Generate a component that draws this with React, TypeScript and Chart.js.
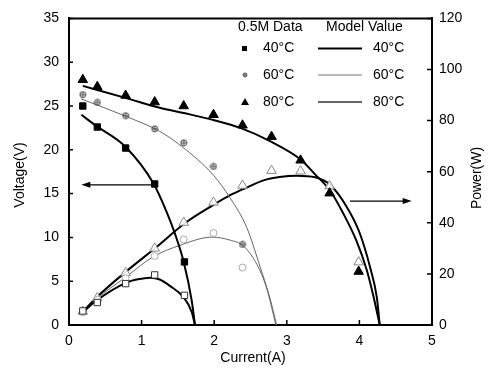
import React, { useEffect, useRef } from 'react';
import { Chart, registerables } from 'chart.js';
Chart.register(...registerables);

const FONT = '"Liberation Sans", Arial, Helvetica, sans-serif';

// ---- measured data (0.5M) ----
const dataI40 = [0.19, 0.39, 0.78, 1.18, 1.59];
const dataV40 = [25.0, 22.6, 20.2, 16.1, 7.2];
const dataP40 = [5.5, 8.8, 16.2, 19.6, 11.6];

const dataI60 = [0.19, 0.39, 0.78, 1.18, 1.58, 1.99, 2.39];
const dataV60 = [26.3, 25.4, 23.9, 22.4, 20.8, 18.1, 9.2];
const dataP60 = [5.0, 9.9, 18.3, 27.0, 33.5, 36.0, 22.5];

const dataI80 = [0.19, 0.39, 0.78, 1.18, 1.58, 1.99, 2.39, 2.79, 3.19, 3.59, 3.99];
const dataV80 = [28.0, 27.2, 26.2, 25.45, 25.0, 24.0, 22.8, 21.5, 18.8, 15.05, 6.1];
const dataP80 = [5.3, 10.6, 20.4, 30.0, 40.1, 48.0, 54.6, 60.4, 60.2, 54.4, 24.6];

// ---- model values ----
const modelI40V = [0.17, 0.38, 0.77, 1.16, 1.35, 1.46, 1.58, 1.69, 1.735];
const modelV40 = [24.0, 22.7, 20.4, 16.2, 12.8, 10.4, 7.2, 2.8, 0];
const modelI40P = [0.19, 0.38, 0.79, 0.95, 1.12, 1.25, 1.39, 1.58, 1.69, 1.735];
const modelP40 = [5.0, 9.6, 16.6, 17.9, 18.5, 17.8, 15.3, 10.8, 5.1, 0];

const modelI60V = [0.17, 0.79, 1.25, 1.55, 1.99, 2.22, 2.45, 2.63, 2.77, 2.86];
const modelV60 = [25.8, 23.8, 22.1, 20.4, 17.1, 14.5, 11.1, 6.7, 3.0, 0];
const modelI60P = [0.19, 0.38, 0.77, 1.16, 1.53, 1.97, 2.22, 2.4, 2.59, 2.72, 2.85];
const modelP60 = [5.0, 10.2, 18.5, 26.7, 31.2, 34.4, 33.2, 31.0, 23.6, 14.6, 0];

const modelI80V = [0.19, 0.79, 1.25, 1.58, 1.99, 2.36, 2.79, 3.19, 3.39, 3.6, 3.78, 3.96, 4.1, 4.19, 4.28];
const modelV80 = [27.3, 25.9, 24.8, 24.2, 23.4, 22.5, 20.9, 18.9, 17.2, 15.3, 12.7, 9.6, 6.3, 3.4, 0];
const modelI80P = [0.19, 0.38, 0.79, 1.21, 1.6, 1.99, 2.22, 2.45, 2.68, 2.9, 3.14, 3.39, 3.6, 3.82, 4.0, 4.15, 4.24, 4.28];
const modelP80 = [5.2, 10.8, 21.0, 30.6, 39.9, 47.0, 50.8, 53.8, 56.6, 57.9, 58.4, 57.8, 54.8, 46.5, 36.3, 22.3, 10.8, 0];

// ---- axis ticks ----
const currentTicks = [0, 1, 2, 3, 4, 5];
const voltageTicks = [0, 5, 10, 15, 20, 25, 30, 35];
const powerTicks = [0, 20, 40, 60, 80, 100, 120];

// ---- arrows (axis indicators): [value, fromCurrent, toCurrent(head)] ----
const voltageArrow = [16, 1.16, 0.17];
const powerArrow = [48.5, 3.87, 4.72];

const tempLabels = ['40°C', '60°C', '80°C'];

function pts(xs: number[], ys: number[]) {
  return xs.map((x, i) => ({ x, y: ys[i] }));
}

function crossCircle(size: number, color: string) {
  const c = document.createElement('canvas');
  c.width = size;
  c.height = size;
  const g = c.getContext('2d')!;
  const m = size / 2;
  g.strokeStyle = color;
  g.lineWidth = 1;
  g.beginPath();
  g.arc(m, m, m - 1, 0, Math.PI * 2);
  g.stroke();
  g.beginPath();
  g.moveTo(m, 1);
  g.lineTo(m, size - 1);
  g.moveTo(1, m);
  g.lineTo(size - 1, m);
  g.stroke();
  return c;
}

const decor = {
  id: 'decor',
  afterDraw(chart: any) {
    const { ctx, chartArea: ca, scales } = chart;
    const sx = scales.x, sy = scales.y, sp = scales.y1;
    ctx.save();
    // top border
    ctx.strokeStyle = '#000';
    ctx.lineWidth = 2;
    ctx.beginPath();
    ctx.moveTo(ca.left, ca.top);
    ctx.lineTo(ca.right, ca.top);
    ctx.stroke();
    // inward ticks
    ctx.lineWidth = 1.5;
    ctx.beginPath();
    currentTicks.forEach((t) => {
      const px = sx.getPixelForValue(t);
      ctx.moveTo(px, ca.bottom);
      ctx.lineTo(px, ca.bottom - 5);
    });
    voltageTicks.forEach((t) => {
      const py = sy.getPixelForValue(t);
      ctx.moveTo(ca.left, py);
      ctx.lineTo(ca.left + 4, py);
    });
    powerTicks.forEach((t) => {
      const py = sp.getPixelForValue(t);
      ctx.moveTo(ca.right, py);
      ctx.lineTo(ca.right - 5, py);
    });
    ctx.stroke();

    // arrows
    const arrow = (scale: any, a: number[]) => {
      const y = scale.getPixelForValue(a[0]);
      const x0 = sx.getPixelForValue(a[1]);
      const x1 = sx.getPixelForValue(a[2]);
      const dir = Math.sign(x1 - x0);
      ctx.strokeStyle = '#000';
      ctx.lineWidth = 1.2;
      ctx.beginPath();
      ctx.moveTo(x0, y);
      ctx.lineTo(x1 - dir * 6, y);
      ctx.stroke();
      ctx.fillStyle = '#000';
      ctx.beginPath();
      ctx.moveTo(x1, y);
      ctx.lineTo(x1 - dir * 9, y - 3);
      ctx.lineTo(x1 - dir * 9, y + 3);
      ctx.closePath();
      ctx.fill();
    };
    arrow(sy, voltageArrow);
    arrow(sp, powerArrow);

    // legend
    ctx.fillStyle = '#000';
    ctx.font = `14px ${FONT}`;
    ctx.textBaseline = 'middle';
    ctx.textAlign = 'left';
    ctx.fillText('0.5M Data', 238, 27);
    ctx.fillText('Model Value', 326, 27);
    const rows = [48.5, 75, 102];
    rows.forEach((ry, i) => {
      ctx.fillStyle = '#000';
      ctx.fillText(tempLabels[i], 263, ry);
      ctx.fillText(tempLabels[i], 373, ry);
    });
    // legend markers
    ctx.fillStyle = '#000';
    ctx.fillRect(242, rows[0] - 2.5, 5, 5);
    ctx.drawImage(crossCircle(6, '#555'), 242, rows[1] - 3);
    ctx.beginPath();
    ctx.moveTo(245, rows[2] - 4);
    ctx.lineTo(249, rows[2] + 3);
    ctx.lineTo(241, rows[2] + 3);
    ctx.closePath();
    ctx.fill();
    // legend lines
    const lineStyles = [
      { w: 2, c: '#000' },
      { w: 1, c: '#777' },
      { w: 1.5, c: '#333' },
    ];
    rows.forEach((ry, i) => {
      ctx.strokeStyle = lineStyles[i].c;
      ctx.lineWidth = lineStyles[i].w;
      ctx.beginPath();
      ctx.moveTo(318, ry);
      ctx.lineTo(362, ry);
      ctx.stroke();
    });

    // axis titles
    ctx.fillStyle = '#000';
    ctx.font = `14px ${FONT}`;
    ctx.textAlign = 'center';
    ctx.textBaseline = 'middle';
    ctx.fillText('Current(A)', 253, 358);
    ctx.save();
    ctx.translate(20, 175);
    ctx.rotate(-Math.PI / 2);
    ctx.fillText('Voltage(V)', 0, 0);
    ctx.restore();
    ctx.save();
    ctx.translate(477, 178);
    ctx.rotate(-Math.PI / 2);
    ctx.fillText('Power(W)', 0, 0);
    ctx.restore();
    ctx.restore();
  },
};

export default function App() {
  const ref = useRef<HTMLCanvasElement | null>(null);
  useEffect(() => {
    document.body.style.margin = '0';
    const canvas = ref.current!;
    const cc = crossCircle(8, '#444');
    const model = (xs: number[], ys: number[], axis: string, color: string, width: number) => ({
      type: 'scatter' as const,
      data: pts(xs, ys),
      yAxisID: axis,
      showLine: true,
      borderColor: color,
      borderWidth: width,
      pointRadius: 0,
      cubicInterpolationMode: 'monotone' as const,
      fill: false,
      order: 2,
    });
    const marks = (xs: number[], ys: number[], axis: string, style: any, radius: number, fill: string, border: string) => ({
      type: 'scatter' as const,
      data: pts(xs, ys),
      yAxisID: axis,
      pointStyle: style,
      pointRadius: radius,
      backgroundColor: fill,
      borderColor: border,
      borderWidth: 1,
      order: 1,
    });
    const chart = new Chart(canvas, {
      type: 'scatter',
      data: {
        datasets: [
          model(modelI40V, modelV40, 'y', '#000', 2),
          model(modelI40P, modelP40, 'y1', '#000', 2),
          model(modelI60V, modelV60, 'y', '#666', 1),
          model(modelI60P, modelP60, 'y1', '#666', 1),
          model(modelI80V, modelV80, 'y', '#000', 2),
          model(modelI80P, modelP80, 'y1', '#000', 2),
          marks(dataI40, dataV40, 'y', 'rect', 4.5, '#000', '#000'),
          marks(dataI40, dataP40, 'y1', 'rect', 4.5, '#fff', '#333'),
          marks(dataI60, dataV60, 'y', cc, 4, '#fff', '#555'),
          marks(dataI60, dataP60, 'y1', 'circle', 3.5, 'rgba(255,255,255,0.9)', '#aaa'),
          marks(dataI80, dataV80, 'y', 'triangle', 5.5, '#000', '#000'),
          marks(dataI80, dataP80, 'y1', 'triangle', 5.5, 'rgba(255,255,255,0.9)', '#888'),
        ],
      },
      options: {
        animation: false,
        responsive: false,
        layout: { padding: { top: 11, left: 0, right: 0, bottom: 0 } },
        plugins: { legend: { display: false }, tooltip: { enabled: false } },
        scales: {
          x: {
            type: 'linear',
            min: 0,
            max: 5,
            afterBuildTicks: (s: any) => { s.ticks = currentTicks.map((v) => ({ value: v })); },
            ticks: { color: '#000', font: { family: FONT, size: 14 }, padding: 8 },
            grid: { display: false, drawTicks: false },
            border: { display: true, color: '#000', width: 2 },
            afterFit: (s: any) => { s.height = 51; },
          },
          y: {
            type: 'linear',
            position: 'left',
            min: 0,
            max: 35,
            afterBuildTicks: (s: any) => { s.ticks = voltageTicks.map((v) => ({ value: v })); },
            ticks: { color: '#000', font: { family: FONT, size: 14 }, padding: 10 },
            grid: { display: false, drawTicks: false },
            border: { display: true, color: '#000', width: 2 },
            afterFit: (s: any) => { s.width = 69; },
          },
          y1: {
            type: 'linear',
            position: 'right',
            min: 0,
            max: 120,
            afterBuildTicks: (s: any) => { s.ticks = powerTicks.map((v) => ({ value: v })); },
            ticks: { color: '#000', font: { family: FONT, size: 14 }, padding: 7 },
            grid: { display: false, drawTicks: false },
            border: { display: true, color: '#000', width: 2 },
            afterFit: (s: any) => { s.width = 58; },
          },
        },
      },
      plugins: [decor],
    } as any);
    return () => chart.destroy();
  }, []);
  return (
    <div style={{ width: 490, height: 376 }}>
      <canvas ref={ref} width={490} height={376} style={{ display: 'block' }} />
    </div>
  );
}
